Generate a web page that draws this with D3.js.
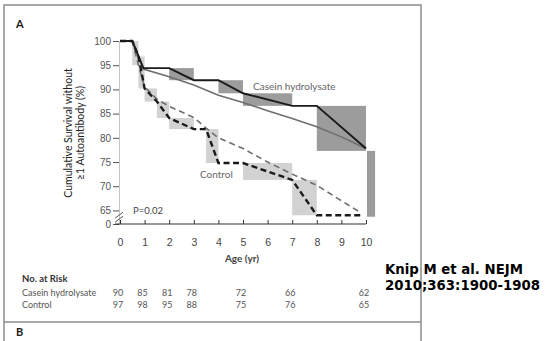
<!DOCTYPE html>
<html>
<head>
<meta charset="utf-8">
<script src="https://cdn.jsdelivr.net/npm/d3@7"></script>
<style>
  body { margin: 0; background: #fff; }
  svg { display: block; font-family: Lato, "Open Sans", sans-serif; }
</style>
</head>
<body>
<div id="chart"></div>
<script>
// Age (yr) -> cumulative survival (%)
const caseinObserved = [[0, 100], [0.5, 100], [0.95, 94.4], [2, 94.4], [3, 91.9], [4, 91.9], [5, 89.2], [7, 86.6], [8, 86.6], [10, 77.8]];
const caseinFitted = [[0.5, 100], [0.95, 94.2], [2, 92.6], [3, 90.9], [4, 88.8], [5, 87.3], [6, 85.6], [7, 84.0], [8, 82.3], [9, 80.2], [10, 77.8]];
const controlObserved = [[0, 100], [0.5, 100], [0.75, 96.8], [1, 90.2], [1.5, 87.5], [2, 84.1], [3, 81.8], [3.5, 81.8], [4, 74.8], [5, 74.8], [7, 71.3], [8, 64], [9.8, 64]];
const controlFitted = [[0.5, 100], [0.75, 95], [1, 90.5], [1.5, 88], [2, 86.5], [3, 84.2], [3.5, 82], [4, 80], [5, 77.8], [6, 75], [7, 72.5], [8, 70.2], [9, 67], [9.8, 64.5]];

// interval boxes: [t0, t1, v0, v1]
const caseinBoxes = [[2, 3, 94.4, 91.9], [4, 5, 91.9, 89.2], [5, 7, 89.2, 86.6], [8, 10, 86.6, 77.3], [10.04, 10.37, 77.3, 63.7]];
const controlBoxes = [[0.5, 0.75, 100, 95], [0.75, 1, 96.8, 90.2], [1, 1.5, 90.2, 87.5], [1.5, 2, 87.5, 84.1], [2, 3, 84.1, 81.8], [3.5, 4, 81.8, 74.8], [5, 7, 74.8, 71.3], [7, 8, 71.3, 64]];

const xTicks = [0, 1, 2, 3, 4, 5, 6, 7, 8, 9, 10];
const yTicks = [65, 70, 75, 80, 85, 90, 95, 100];
const yFloor = 62.2; // bottom of the broken axis, labelled "0"

const riskYears = [0, 1, 2, 3, 5, 7, 10];
const riskCasein = [90, 85, 81, 78, 72, 66, 62];
const riskControl = [97, 98, 95, 88, 75, 76, 65];

const svg = d3.select('#chart').append('svg')
  .attr('width', 546)
  .attr('height', 341);

// panel frame
svg.append('rect')
  .attr('x', 4).attr('y', 5).attr('width', 417).attr('height', 345)
  .attr('fill', 'none').attr('stroke', '#8c8c8c').attr('stroke-width', 1.5);
svg.append('line')
  .attr('x1', 4).attr('x2', 421).attr('y1', 322).attr('y2', 322)
  .attr('stroke', '#8c8c8c').attr('stroke-width', 1.5);

svg.append('text').attr('x', 16).attr('y', 28)
  .style('font-size', '11px').style('font-weight', 'bold').attr('fill', '#222').text('A');
svg.append('text').attr('x', 16).attr('y', 336)
  .style('font-size', '11px').style('font-weight', 'bold').attr('fill', '#222').text('B');

const x = d3.scaleLinear().domain([0, 10]).range([120, 366]);
const y = d3.scaleLinear().domain([yFloor, 100]).range([224, 41]);

// boxes
svg.selectAll('.box-control')
  .data(controlBoxes)
  .enter().append('rect')
  .attr('class', 'box-control')
  .attr('x', d => x(d[0]))
  .attr('y', d => y(d[2]))
  .attr('width', d => x(d[1]) - x(d[0]))
  .attr('height', d => y(d[3]) - y(d[2]))
  .attr('fill', '#d2d2d2');

svg.selectAll('.box-casein')
  .data(caseinBoxes)
  .enter().append('rect')
  .attr('class', 'box-casein')
  .attr('x', d => x(d[0]))
  .attr('y', d => y(d[2]))
  .attr('width', d => x(d[1]) - x(d[0]))
  .attr('height', d => y(d[3]) - y(d[2]))
  .attr('fill', '#9c9c9c');

// y axis
const yAxis = svg.append('g')
  .attr('transform', `translate(${x(0) - 1},0)`)
  .call(d3.axisLeft(y).tickValues([yFloor].concat(yTicks)).tickSize(6).tickPadding(2)
    .tickFormat(d => d === yFloor ? '0' : d));
yAxis.select('.domain').attr('stroke', '#c4c4c4');
yAxis.selectAll('.tick line').attr('stroke', '#555');
yAxis.selectAll('text').style('font-size', '10px').attr('fill', '#555');

// axis break marks
const breakY = (y(65) + y(yFloor)) / 2;
[-2, 2].forEach(o => {
  svg.append('line')
    .attr('x1', x(0) - 5).attr('x2', x(0) + 3)
    .attr('y1', breakY + o + 3).attr('y2', breakY + o - 3)
    .attr('stroke', '#555').attr('stroke-width', 1);
});

// x axis
const xAxis = svg.append('g')
  .attr('transform', `translate(0,${y(yFloor)})`)
  .call(d3.axisBottom(x).tickValues(xTicks).tickSize(-4).tickPadding(14.5).tickSizeOuter(0));
xAxis.select('.domain').attr('d', `M${x(-0.2)},0H${x(10)}`).attr('stroke', '#333').attr('stroke-width', 1.2);
xAxis.selectAll('.tick line').attr('stroke', '#333');
xAxis.selectAll('text').style('font-size', '10.5px').attr('fill', '#444');

// curves
const line = d3.line().x(d => x(d[0])).y(d => y(d[1]));

svg.append('path').datum(caseinFitted)
  .attr('d', line).attr('fill', 'none').attr('stroke', '#6e6e6e').attr('stroke-width', 1.6);
svg.append('path').datum(controlFitted)
  .attr('d', line).attr('fill', 'none').attr('stroke', '#6e6e6e').attr('stroke-width', 1.6)
  .attr('stroke-dasharray', '6,4');
svg.append('path').datum(caseinObserved)
  .attr('d', line).attr('fill', 'none').attr('stroke', '#1a1a1a').attr('stroke-width', 1.9);
svg.append('path').datum(controlObserved)
  .attr('d', line).attr('fill', 'none').attr('stroke', '#1a1a1a').attr('stroke-width', 2.4)
  .attr('stroke-dasharray', '6,3.5');

// labels inside plot
svg.append('text').attr('x', 253).attr('y', 90)
  .style('font-size', '10px').attr('fill', '#666').text('Casein hydrolysate');
svg.append('text').attr('x', 200).attr('y', 178)
  .style('font-size', '10px').attr('fill', '#666').text('Control');
svg.append('text').attr('x', 133).attr('y', 213.5)
  .style('font-size', '9.5px').attr('fill', '#444').text('P=0.02');

// axis titles
svg.append('text').attr('x', 242).attr('y', 262)
  .attr('text-anchor', 'middle')
  .style('font-size', '10px').style('font-weight', 'bold').attr('fill', '#444').text('Age (yr)');

const yTitle = svg.append('text')
  .attr('transform', 'translate(72,133) rotate(-90)')
  .attr('text-anchor', 'middle')
  .style('font-size', '10.5px').attr('fill', '#222');
yTitle.append('tspan').attr('x', 0).attr('dy', 0).text('Cumulative Survival without');
yTitle.append('tspan').attr('x', 0).attr('dy', 12).text('\u22651 Autoantibody (%)');

// number at risk
svg.append('text').attr('x', 22).attr('y', 282)
  .style('font-size', '9.5px').style('font-weight', 'bold').attr('fill', '#333').text('No. at Risk');
svg.append('text').attr('x', 22).attr('y', 296)
  .style('font-size', '9px').attr('fill', '#555').text('Casein hydrolysate');
svg.append('text').attr('x', 22).attr('y', 307.5)
  .style('font-size', '9px').attr('fill', '#555').text('Control');

svg.selectAll('.risk-casein')
  .data(riskCasein)
  .enter().append('text')
  .attr('class', 'risk-casein')
  .attr('x', (d, i) => x(riskYears[i]) - 2)
  .attr('y', 296)
  .attr('text-anchor', 'middle')
  .style('font-size', '9px').attr('fill', '#555')
  .text(d => d);

svg.selectAll('.risk-control')
  .data(riskControl)
  .enter().append('text')
  .attr('class', 'risk-control')
  .attr('x', (d, i) => x(riskYears[i]) - 2)
  .attr('y', 307.5)
  .attr('text-anchor', 'middle')
  .style('font-size', '9px').attr('fill', '#555')
  .text(d => d);

// citation
const cite = svg.append('text')
  .style('font-family', '"Comic Sans MS", "DejaVu Sans", sans-serif')
  .style('font-size', '13.3px').style('font-weight', 'bold').attr('fill', '#000');
cite.append('tspan').attr('x', 385).attr('y', 274).text('Knip M et al. NEJM');
cite.append('tspan').attr('x', 385).attr('y', 290).text('2010;363:1900-1908');
</script>
</body>
</html>
